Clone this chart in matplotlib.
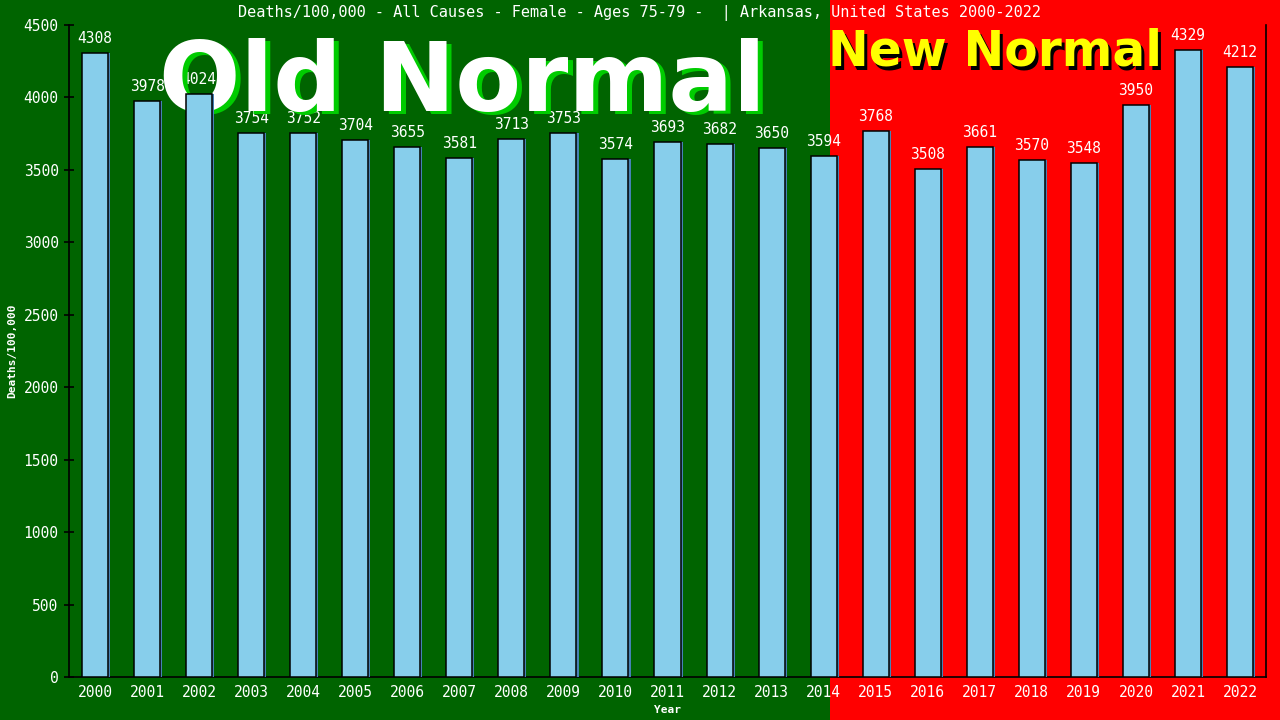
import numpy as np
import matplotlib
matplotlib.use('Agg')
import matplotlib.pyplot as plt
from matplotlib.patches import Rectangle

years = [str(y) for y in range(2000, 2023)]
deaths = [4308, 3978, 4024, 3754, 3752, 3704, 3655, 3581, 3713, 3753, 3574, 3693,
          3682, 3650, 3594, 3768, 3508, 3661, 3570, 3548, 3950, 4329, 4212]
labels = [str(v) for v in deaths]

mono = 'DejaVu Sans Mono'

fig = plt.figure(figsize=(12.8, 7.2), dpi=100)
fig.patch.set_facecolor('#006400')
# red "new normal" half of the background
fig.add_artist(Rectangle((830 / 1280, 0), 1 - 830 / 1280, 1, transform=fig.transFigure,
                         facecolor='#ff0000', edgecolor='none', zorder=-10))

ax = fig.add_axes([69 / 1280, 43 / 720, (1266 - 69) / 1280, (677 - 25) / 720])
ax.set_facecolor('none')

x = np.arange(len(years))
# shadow bars then main bars
ax.bar(x + 0.04, deaths, width=0.5, color='#4682b4', zorder=3)
ax.bar(x, deaths, width=0.5, color='#87ceeb', edgecolor='black', linewidth=1.1, zorder=4)

for xi, v, t in zip(x, deaths, labels):
    ax.annotate(t, (xi, v), xytext=(0, 5), textcoords='offset points', ha='center',
                va='bottom', color='white', fontsize=10.5, family=mono, zorder=1)

ax.set_xlim(-0.5, len(years) - 0.5)
ax.set_ylim(0, 4500)
ax.set_yticks(np.arange(0, 4501, 500))
ax.set_xticks(x)
ax.set_xticklabels(years)
ax.tick_params(axis='y', direction='inout', length=7, width=1.2, colors='black',
               labelcolor='white', labelsize=10.5, pad=4)
ax.tick_params(axis='x', length=0, labelcolor='white', labelsize=10.5, pad=6)
for lab in ax.get_xticklabels() + ax.get_yticklabels():
    lab.set_family(mono)
ax.spines['top'].set_visible(False)
for s in ['left', 'right', 'bottom']:
    ax.spines[s].set_color('black')
    ax.spines[s].set_linewidth(1.2)

ax.set_xlabel('Year', color='white', fontsize=8, family=mono, fontweight='bold')
ax.set_ylabel('Deaths/100,000', color='white', fontsize=8, family=mono, fontweight='bold')
ax.xaxis.set_label_coords(0.5, -0.043)
ax.yaxis.set_label_coords(-0.043, 0.5)

fig.text(0.5, 1 - 13 / 720,
         'Deaths/100,000 - All Causes - Female - Ages 75-79 -  | Arkansas, United States 2000-2022',
         ha='center', va='center', color='white', fontsize=11, family=mono)

# big banner texts (between labels and bars)
ax.text(467 / 1280, 1 - 114 / 720, 'Old Normal', transform=fig.transFigure, ha='center',
        va='baseline', color='#00cc00', fontsize=69, fontweight='bold', zorder=2)
ax.text(462 / 1280, 1 - 111 / 720, 'Old Normal', transform=fig.transFigure, ha='center',
        va='baseline', color='white', fontsize=69, fontweight='bold', zorder=2)
ax.text(998 / 1280, 1 - 69 / 720, 'New Normal', transform=fig.transFigure, ha='center',
        va='baseline', color='black', fontsize=35, fontweight='bold', zorder=2)
ax.text(995 / 1280, 1 - 66 / 720, 'New Normal', transform=fig.transFigure, ha='center',
        va='baseline', color='#ffff00', fontsize=35, fontweight='bold', zorder=2)

fig.savefig('out.png', dpi=100, facecolor=fig.get_facecolor())
